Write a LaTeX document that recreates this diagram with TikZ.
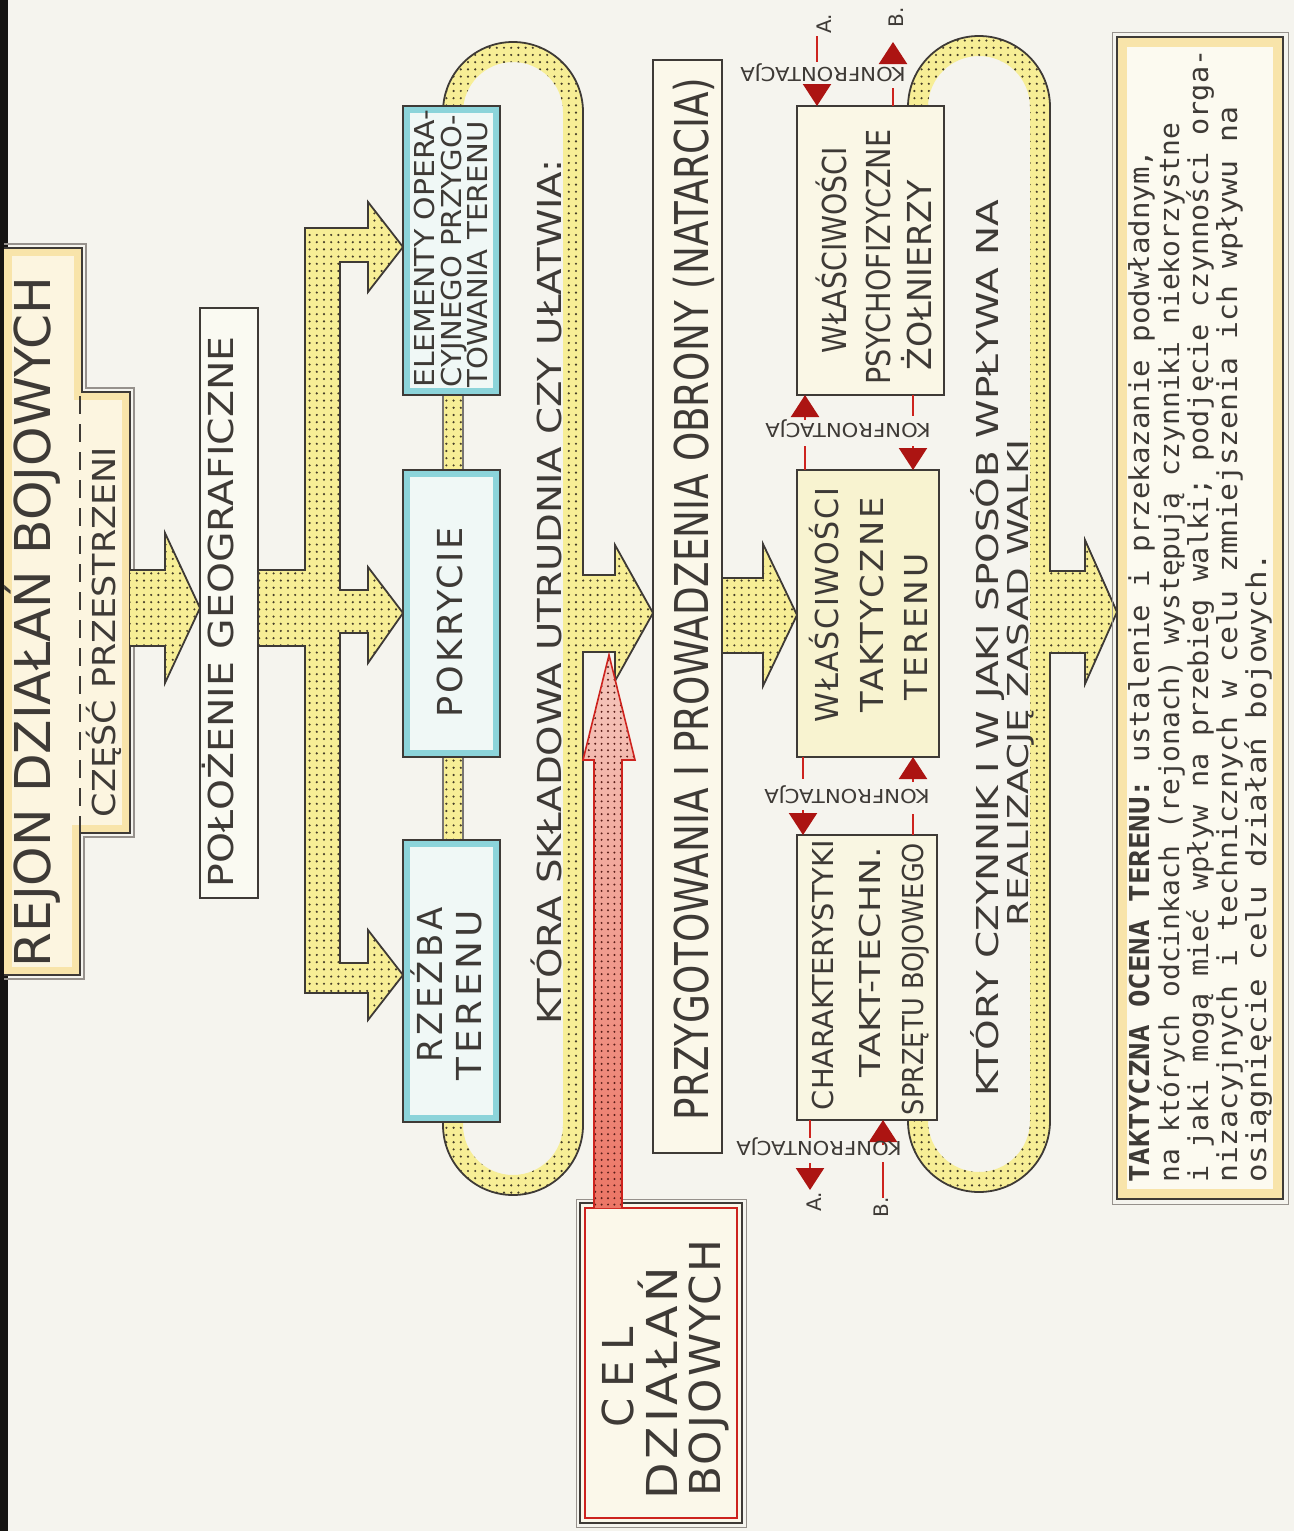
\documentclass[tikz,border=0pt]{standalone}
\usepackage{fontspec}
\setmainfont{DejaVu Sans}
\newfontfamily\monof{DejaVu Sans Mono}
\usepackage{graphicx}
\usetikzlibrary{arrows.meta,patterns.meta}

\definecolor{paper}{RGB}{245,244,238}
\definecolor{scanedge}{RGB}{22,20,18}
\definecolor{ink}{RGB}{62,58,54}
\definecolor{greyl}{RGB}{150,145,140}
\definecolor{yel}{RGB}{247,238,150}
\definecolor{dotc}{RGB}{70,62,40}
\definecolor{cyanp}{RGB}{140,212,218}
\definecolor{cyanf}{RGB}{240,248,246}
\definecolor{geof}{RGB}{250,250,242}
\definecolor{cream}{RGB}{251,248,234}
\definecolor{psyf}{RGB}{250,247,230}
\definecolor{taktf}{RGB}{248,243,208}
\definecolor{charf}{RGB}{249,246,226}
\definecolor{titlef}{RGB}{252,245,224}
\definecolor{orangep}{RGB}{248,228,170}
\definecolor{descf}{RGB}{252,250,240}
\definecolor{redl}{RGB}{205,35,30}
\definecolor{redd}{RGB}{172,20,18}
\definecolor{pinkt}{RGB}{245,200,190}
\definecolor{pinkb}{RGB}{236,118,102}
\definecolor{reddot}{RGB}{90,30,25}

\newcommand\fsz[1]{\fontsize{#1pt}{#1pt}\selectfont}
\newcommand\fitw[2]{\resizebox{#1pt}{\height}{#2}}
\newcommand\spaced[1]{\addfontfeature{LetterSpace=#1}}

\tikzset{
  box/.style={draw=ink, line width=1pt, inner sep=0pt, outer sep=0pt},
  pencil/.style 2 args={path picture={\draw[#1, line width=#2]
      (path picture bounding box.south west) rectangle (path picture bounding box.north east);}},
  vtxt/.style={rotate=90, anchor=base, inner sep=0pt, text=ink},
  vtxtl/.style={rotate=90, anchor=base west, inner sep=0pt, text=ink},
  utxt/.style={rotate=180, anchor=base, inner sep=0pt, text=ink},
  ypatch/.style={preaction={fill=yel},
      preaction={pattern={Dots[distance=3.6pt,radius=0.6pt]}, pattern color=dotc}},
  yedge/.style={draw=ink, line width=0.9pt},
  redpatch/.style={preaction={top color=pinkt, bottom color=pinkb},
      preaction={pattern={Dots[distance=3.2pt,radius=0.55pt]}, pattern color=reddot}},
  rline/.style={draw=redl, line width=1.1pt},
  rarrow/.style={draw=redl, line width=1.1pt, -{Triangle[width=14pt,length=11pt,color=redd]}},
}

\begin{document}
\begin{tikzpicture}[x=0.5pt,y=0.5pt]
\useasboundingbox (0,0) rectangle (1294,-1531);
\fill[paper] (0,0) rectangle (1294,-1531);
\fill[scanedge] (0,0) rectangle (8,-1531);

% ---------- title panel (stepped outline) ----------
\begin{scope}
  \fill[titlef] (4,-248) -- (82,-248) -- (82,-392) -- (130,-392) -- (130,-833)
        -- (80,-833) -- (80,-975) -- (4,-975) -- cycle;
  \clip (4,-248) -- (82,-248) -- (82,-392) -- (130,-392) -- (130,-833)
        -- (80,-833) -- (80,-975) -- (4,-975) -- cycle;
  \draw[orangep, line width=8pt] (4,-248) -- (82,-248) -- (82,-392) -- (130,-392)
        -- (130,-833) -- (80,-833) -- (80,-975) -- (4,-975) -- cycle;
\end{scope}
\draw[greyl, line width=0.6pt] (4,-244) -- (86,-244) -- (86,-388) -- (134,-388)
      -- (134,-837) -- (84,-837) -- (84,-979) -- (4,-979);
\draw[ink, line width=1pt] (4,-248) -- (82,-248) -- (82,-392) -- (130,-392)
      -- (130,-833) -- (80,-833) -- (80,-975) -- (4,-975);
\draw[ink, line width=0.9pt, dash pattern=on 9pt off 5pt] (80,-396) -- (80,-833);

% ---------- yellow flow shapes ----------
% title -> geographic position
\path[ypatch, yedge] (130,-570) -- (165,-570) -- (165,-533) -- (200,-608)
      -- (165,-683) -- (165,-646) -- (130,-646);
% trunk with three branches
\path[ypatch, yedge] (258,-570) -- (305,-570) -- (305,-228) -- (368,-228) -- (368,-202)
      -- (403,-247) -- (368,-292) -- (368,-262) -- (340,-262) -- (340,-590) -- (368,-590)
      -- (368,-567) -- (403,-613) -- (368,-663) -- (368,-633) -- (340,-633) -- (340,-963)
      -- (368,-963) -- (368,-930) -- (403,-975) -- (368,-1020) -- (368,-993) -- (305,-993)
      -- (305,-646) -- (258,-646);
% links between the three terrain boxes
\path[ypatch] (443,-395) rectangle (463,-470);
\path[ypatch] (443,-757) rectangle (463,-840);
\draw[ink!70, line width=0.6pt] (443,-395) -- (443,-470) (463,-395) -- (463,-470)
      (443,-757) -- (443,-840) (463,-757) -- (463,-840);
% left loop
\path[ypatch] (443,-106) -- (443,-112) arc[start angle=180, end angle=0, radius=70]
      -- (583,-1125) arc[start angle=0, end angle=-180, radius=70] -- (443,-1122)
      -- (463,-1122) -- (463,-1125) arc[start angle=180, end angle=360, radius=50]
      -- (563,-112) arc[start angle=0, end angle=180, radius=50] -- (463,-106) -- cycle;
\path[ypatch] (583,-575) -- (615,-575) -- (615,-545) -- (653,-613) -- (615,-681)
      -- (615,-652) -- (583,-652) -- cycle;
\draw[yedge] (443,-106) -- (443,-112) arc[start angle=180, end angle=0, radius=70]
      -- (583,-575) -- (615,-575) -- (615,-545) -- (653,-613) -- (615,-681)
      -- (615,-652) -- (583,-652) -- (583,-1125)
      arc[start angle=0, end angle=-180, radius=70] -- (443,-1122);
% preparation -> tactical terrain properties
\path[ypatch, yedge] (722,-578) -- (763,-578) -- (763,-544) -- (797,-615)
      -- (763,-686) -- (763,-653) -- (722,-653);
% right loop
\path[ypatch] (908,-106) -- (908,-107) arc[start angle=180, end angle=0, radius=71]
      -- (1050,-1121) arc[start angle=0, end angle=-180, radius=71] -- (908,-1120)
      -- (928,-1120) -- (928,-1121) arc[start angle=180, end angle=360, radius=51]
      -- (1030,-107) arc[start angle=0, end angle=180, radius=51] -- (928,-106) -- cycle;
\path[ypatch] (1050,-571) -- (1085,-571) -- (1085,-540) -- (1117,-612) -- (1085,-684)
      -- (1085,-653) -- (1050,-653) -- cycle;
\draw[yedge] (908,-106) -- (908,-107) arc[start angle=180, end angle=0, radius=71]
      -- (1050,-571) -- (1085,-571) -- (1085,-540) -- (1117,-612) -- (1085,-684)
      -- (1085,-653) -- (1050,-653) -- (1050,-1121)
      arc[start angle=0, end angle=-180, radius=71] -- (908,-1120);

% ---------- boxes ----------
\node[box, fill=geof, minimum width=29pt, minimum height=295pt] (geo) at (229,-603) {};
\node[box, fill=cyanf, pencil={cyanp}{7pt}, minimum width=48.5pt, minimum height=144.5pt] (elem) at (451.5,-250.5) {};
\node[box, fill=cyanf, pencil={cyanp}{7pt}, minimum width=48.5pt, minimum height=143.5pt] (pokr) at (451.5,-613.5) {};
\node[box, fill=cyanf, pencil={cyanp}{7pt}, minimum width=48.5pt, minimum height=141pt] (rzez) at (451.5,-981) {};
\node[box, fill=cream, minimum width=34.5pt, minimum height=546.5pt] (przyg) at (687.5,-606.5) {};
\node[box, fill=psyf, minimum width=73.5pt, minimum height=144.5pt] (psy) at (870.5,-250.5) {};
\node[box, fill=taktf, minimum width=71pt, minimum height=143.5pt] (takt) at (868,-613.5) {};
\node[box, fill=charf, minimum width=70pt, minimum height=142.5pt] (char) at (867,-977.5) {};
% goal box with red inner frame
\node[box, fill=cream, minimum width=81pt, minimum height=160pt] (cel) at (661,-1363) {};
\draw[redl, line width=1pt] ([shift={(2.5pt,2.5pt)}]cel.south west) rectangle ([shift={(-2.5pt,-2.5pt)}]cel.north east);
\draw[greyl, line width=0.5pt] ([shift={(-2pt,-2pt)}]cel.south west) rectangle ([shift={(2pt,2pt)}]cel.north east);
% definition box
\node[box, fill=descf, pencil={orangep}{10pt}, minimum width=83pt, minimum height=581pt] (desc) at (1200,-618) {};
\draw[greyl, line width=0.5pt] ([shift={(-2.5pt,-2.5pt)}]desc.south west) rectangle ([shift={(2.5pt,2.5pt)}]desc.north east);

% ---------- red arrow from the goal ----------
\path[redpatch, draw=redl, line width=0.8pt] (594,-1208) -- (594,-760) -- (583,-760)
      -- (609,-655) -- (635,-760) -- (622,-760) -- (622,-1208);

% ---------- confrontation links ----------
\coordinate (pA1a) at (817,-36);  \coordinate (pA1b) at (817,-62);  \coordinate (pA1c) at (817,-84);
\draw[rline] (pA1a) -- (pA1b);
\draw[rarrow] (pA1c) -- (pA1c |- psy.north);
\coordinate (pB1a) at (893,-88);  \coordinate (pB1b) at (893,-62);  \coordinate (pB1c) at (893,-42);
\draw[rline] (pB1a |- psy.north) -- (pB1a);
\draw[rarrow] (pB1b) -- (pB1c);

\coordinate (pL2a) at (805,-420); \coordinate (pL2b) at (805,-446);
\draw[rarrow] (pL2a) -- (pL2a |- psy.south);
\draw[rline] (pL2b |- takt.north) -- (pL2b);
\coordinate (pR2a) at (913,-416); \coordinate (pR2b) at (913,-446);
\draw[rline] (pR2a |- psy.south) -- (pR2a);
\draw[rarrow] (pR2b) -- (pR2b |- takt.north);

\coordinate (pL3a) at (803,-779); \coordinate (pL3b) at (803,-810);
\draw[rline] (pL3a |- takt.south) -- (pL3a);
\draw[rarrow] (pL3b) -- (pL3b |- char.north);
\coordinate (pR3a) at (913,-782); \coordinate (pR3b) at (913,-814);
\draw[rarrow] (pR3a) -- (pR3a |- takt.south);
\draw[rline] (pR3b |- char.north) -- (pR3b);

\coordinate (pA4a) at (810,-1138); \coordinate (pA4b) at (810,-1163); \coordinate (pA4c) at (810,-1190);
\draw[rline] (pA4a |- char.south) -- (pA4a);
\draw[rarrow] (pA4b) -- (pA4c);
\coordinate (pB4a) at (883,-1145); \coordinate (pB4b) at (883,-1162); \coordinate (pB4c) at (883,-1198);
\draw[rarrow] (pB4a) -- (pB4a |- char.south);
\draw[rline] (pB4b) -- (pB4c);

\node[utxt] (k1) at (823,-67)   {\fsz{9.6}\fitw{82.5}{KONFRONTACJA}};
\node[utxt] (k2) at (848,-423)  {\fsz{9.6}\fitw{82.5}{KONFRONTACJA}};
\node[utxt] (k3) at (847,-789)  {\fsz{9.6}\fitw{82.5}{KONFRONTACJA}};
\node[utxt] (k4) at (819,-1141) {\fsz{9.6}\fitw{82.5}{KONFRONTACJA}};
\node[vtxtl] (lA1) at (831,-34)   {\fsz{10}A.};
\node[vtxtl] (lB1) at (903,-28)   {\fsz{10}B.};
\node[vtxtl] (lA4) at (821,-1212) {\fsz{10}A.};
\node[vtxtl] (lB4) at (888,-1218) {\fsz{10}B.};

% ---------- texts ----------
\node[vtxt] (t1) at (50,-622)  {\fsz{24.7}\fitw{345.5}{REJON DZIAŁAŃ BOJOWYCH}};
\node[vtxt] (t2) at (115,-632) {\fsz{15.8}\fitw{185}{CZĘŚĆ PRZESTRZENI}};
\node[vtxt] (t3) at (233,-612) {\fsz{17.2}\fitw{275.5}{POŁOŻENIE GEOGRAFICZNE}};
\node[vtxtl] (t4a) at (434,-388) {\fsz{13.7}\fitw{139}{ELEMENTY OPERA-}};
\node[vtxtl] (t4b) at (461,-388) {\fsz{13.7}\fitw{136.5}{CYJNEGO PRZYGO-}};
\node[vtxtl] (t4c) at (487,-388) {\fsz{13.7}\fitw{133}{TOWANIA TERENU}};
\node[vtxt] (t5) at (462,-622) {\fsz{17.2}\spaced{8}\fitw{95}{POKRYCIE}};
\node[vtxt] (t6a) at (442,-985) {\fsz{17.2}\spaced{10}\fitw{77.5}{RZEŹBA}};
\node[vtxt] (t6b) at (481,-995) {\fsz{17.2}\spaced{10}\fitw{85}{TERENU}};
\node[vtxt] (t7) at (561,-592) {\fsz{16.5}\fitw{432.5}{KTÓRA SKŁADOWA UTRUDNIA CZY UŁATWIA:}};
\node[vtxt] (t8) at (708,-599) {\fsz{23.3}\fitw{521}{PRZYGOTOWANIA I PROWADZENIA OBRONY (NATARCIA)}};
\node[vtxt] (t9a) at (633,-1377) {\fsz{21.3}\spaced{25}\fitw{50}{CEL}};
\node[vtxt] (t9b) at (677,-1383) {\fsz{21.3}\spaced{8}\fitw{116.5}{DZIAŁAŃ}};
\node[vtxt] (t9c) at (720,-1368) {\fsz{21.3}\spaced{5}\fitw{128.5}{BOJOWYCH}};
\node[vtxt] (t10a) at (846,-250) {\fsz{16.5}\fitw{103}{WŁAŚCIWOŚCI}};
\node[vtxt] (t10b) at (890,-257) {\fsz{16.5}\fitw{127.5}{PSYCHOFIZYCZNE}};
\node[vtxt] (t10c) at (931,-275) {\fsz{16.5}\fitw{95}{ŻOŁNIERZY}};
\node[vtxt] (t11a) at (838,-605) {\fsz{15.8}\spaced{5}\fitw{117}{WŁAŚCIWOŚCI}};
\node[vtxt] (t11b) at (883,-605) {\fsz{15.8}\spaced{8}\fitw{107.5}{TAKTYCZNE}};
\node[vtxt] (t11c) at (927,-627) {\fsz{15.8}\spaced{8}\fitw{73.5}{TERENU}};
\node[vtxt] (t12a) at (833,-975) {\fsz{14.4}\fitw{135}{CHARAKTERYSTYKI}};
\node[vtxt] (t12b) at (880,-962) {\fsz{14.4}\fitw{115}{TAKT-TECHN.}};
\node[vtxt] (t12c) at (923,-979) {\fsz{14.4}\fitw{136}{SPRZĘTU BOJOWEGO}};
\node[vtxt] (t13a) at (998,-648) {\fsz{15.1}\fitw{448.5}{KTÓRY CZYNNIK I W JAKI SPOSÓB WPŁYWA NA}};
\node[vtxt] (t13b) at (1028,-683) {\fsz{14.4}\fitw{243.5}{REALIZACJĘ ZASAD WALKI}};

\node[vtxtl] (d1) at (1149,-1183) {\monof\fsz{13.7}\fitw{516.5}{\textbf{TAKTYCZNA OCENA TERENU:} ustalenie i przekazanie podwładnym,}};
\node[vtxtl] (d2) at (1179,-1183) {\monof\fsz{13.7}\fitw{530}{na których odcinkach (rejonach) występują czynniki niekorzystne}};
\node[vtxtl] (d3) at (1208,-1183) {\monof\fsz{13.7}\fitw{566.5}{i jaki mogą mieć wpływ na przebieg walki; podjęcie czynności orga-}};
\node[vtxtl] (d4) at (1237,-1183) {\monof\fsz{13.7}\fitw{538}{nizacyjnych i technicznych w celu zmniejszenia ich wpływu na}};
\node[vtxtl] (d5) at (1266,-1183) {\monof\fsz{13.7}\fitw{315}{osiągnięcie celu działań bojowych.}};
\end{tikzpicture}
\end{document}
